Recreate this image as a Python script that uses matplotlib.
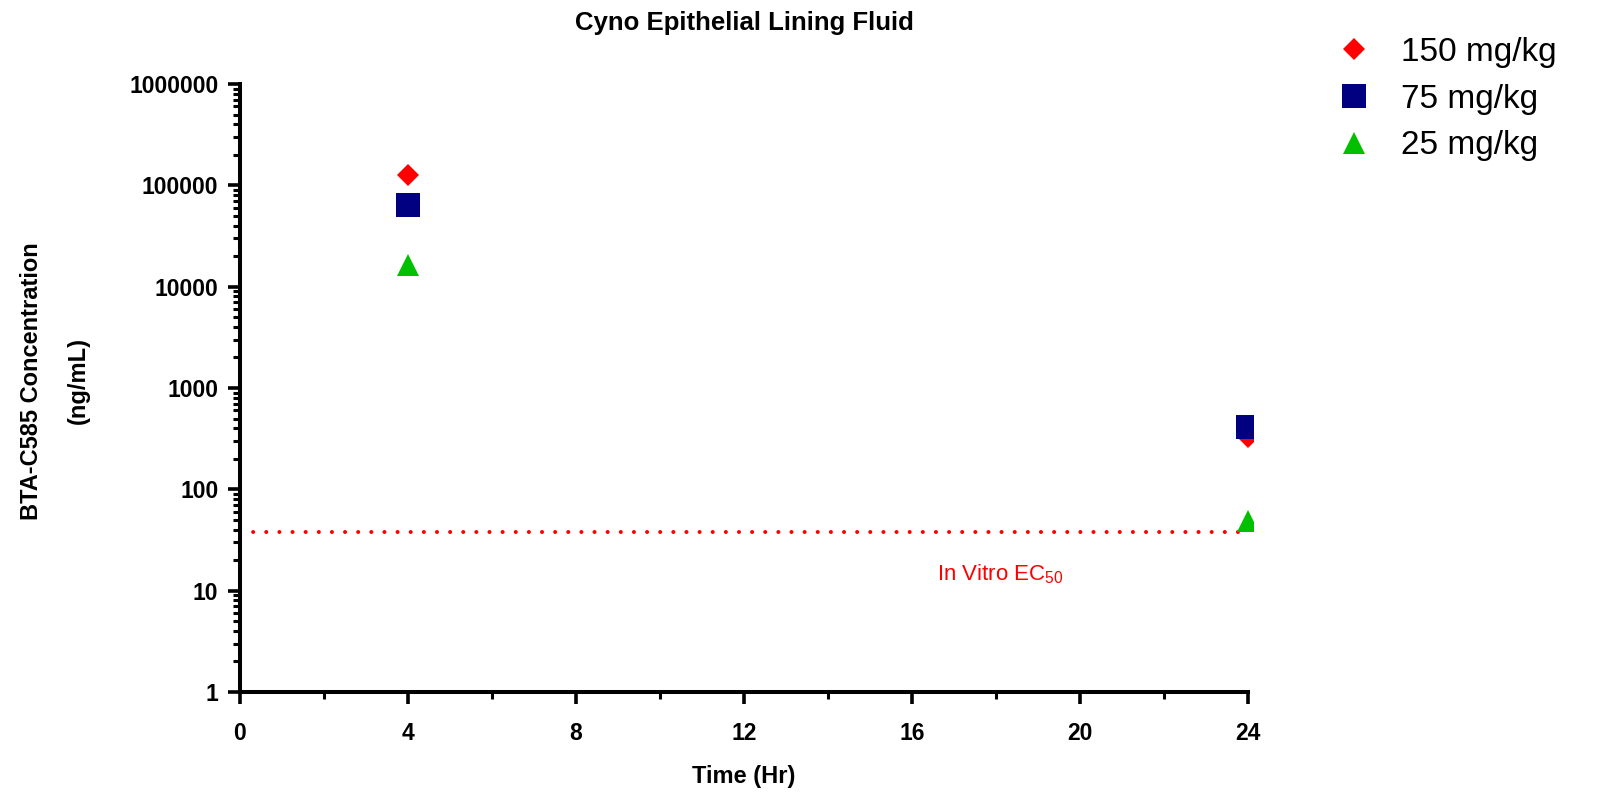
import matplotlib
matplotlib.use("Agg")
import matplotlib.pyplot as plt
from matplotlib.patches import Rectangle
from matplotlib.ticker import FixedLocator, FixedFormatter, LogLocator, NullFormatter

plt.rcParams['font.family'] = ['Liberation Sans', 'DejaVu Sans']
plt.rcParams['mathtext.fontset'] = 'custom'
plt.rcParams['mathtext.rm'] = 'Liberation Sans'
plt.rcParams['mathtext.it'] = 'Liberation Sans'

# ---- data ----
time_hr = [4, 24]
conc_150 = [126000, 330]
conc_75 = [64000, 412]
conc_25 = [16500, 48.5]
ec50_value = 37.7
ec50_span = [0, 24]

series_labels = ['150 mg/kg', '75 mg/kg', '25 mg/kg']
series_colors = ['#FF0000', '#000080', '#00C000']

x_major = [0, 4, 8, 12, 16, 20, 24]
x_minor = [2, 6, 10, 14, 18, 22]
y_major = [1, 10, 100, 1000, 10000, 100000, 1000000]
y_major_labels = ['1', '10', '100', '1000', '10000', '100000', '1000000']

title = 'Cyno Epithelial Lining Fluid'
xlabel = 'Time (Hr)'
ylabel = 'BTA-C585 Concentration\n(ng/mL)'
ec50_label = 'In Vitro EC$_{50}$'

# ---- figure ----
W, H = 1602, 795
fig = plt.figure(figsize=(W / 100, H / 100), dpi=100)
ax_left, ax_right, ax_top, ax_bottom = 240, 1248, 84, 692
ax = fig.add_axes([ax_left / W, 1 - ax_bottom / H,
                   (ax_right - ax_left) / W, (ax_bottom - ax_top) / H])

ax.set_yscale('log')
ax.set_xlim(0, 24)
ax.set_ylim(1, 1000000)

clip_rect = Rectangle((0, 0), 1.005, 1.0, transform=ax.transAxes,
                      facecolor='none', edgecolor='none')

# EC50 dotted line
ax.plot(ec50_span, [ec50_value, ec50_value], color='#FF0000', lw=2.9,
        dashes=(0.01, 3.25), dash_capstyle='round', zorder=2)

ms_D = 11.5
ms_s = 17.3
ms_t = 16.5
l1, = ax.plot(time_hr, conc_150, ls='none', marker='D', ms=ms_D, color=series_colors[0],
              mew=0, label=series_labels[0], zorder=3)
l2, = ax.plot(time_hr, conc_75, ls='none', marker='s', ms=ms_s, color=series_colors[1],
              mew=0, label=series_labels[1], zorder=4)
l3, = ax.plot(time_hr, conc_25, ls='none', marker='^', ms=ms_t, color=series_colors[2],
              mew=0, label=series_labels[2], zorder=5)
for ln in (l1, l2, l3):
    ln.set_clip_path(clip_rect)

# spines
for s in ['top', 'right']:
    ax.spines[s].set_visible(False)
for s in ['left', 'bottom']:
    ax.spines[s].set_linewidth(2.9)
    ax.spines[s].set_capstyle('projecting')

# ticks
ax.xaxis.set_major_locator(FixedLocator(x_major))
ax.xaxis.set_minor_locator(FixedLocator(x_minor))
ax.yaxis.set_major_locator(FixedLocator(y_major))
ax.yaxis.set_major_formatter(FixedFormatter(y_major_labels))
ax.yaxis.set_minor_locator(LogLocator(base=10, subs=range(2, 10), numticks=20))
ax.yaxis.set_minor_formatter(NullFormatter())

ax.tick_params(axis='both', which='major', direction='out', length=8.6, width=2.6,
               labelsize=16.5, pad=7)
ax.tick_params(axis='both', which='minor', direction='out', length=5, width=2.2)
ax.tick_params(axis='x', which='major', pad=13)
for lab in ax.get_xticklabels() + ax.get_yticklabels():
    lab.set_fontweight('bold')

# labels
fig.text(744 / W, 1 - 23 / H, title, ha='center', va='center',
         fontsize=18.5, fontweight='bold')
ax.set_xlabel(xlabel, fontsize=17, fontweight='bold', va='center')
ax.xaxis.set_label_coords(0.5, -(776 - ax_bottom) / (ax_bottom - ax_top))
ax.set_ylabel(ylabel, fontsize=17, fontweight='bold', va='center', ha='center',
              multialignment='center', linespacing=2.3)
ax.yaxis.set_label_coords(-(ax_left - 55) / (ax_right - ax_left),
                          (ax_bottom - 381) / (ax_bottom - ax_top))

ax.text((1000 - ax_left) / (ax_right - ax_left), (ax_bottom - 574) / (ax_bottom - ax_top),
        ec50_label, transform=ax.transAxes, color='#FF0000', fontsize=16,
        ha='center', va='center')

fig.legend(loc='upper left', bbox_to_anchor=(1338 / W, 1 - 37 / H),
           frameon=False, fontsize=24, handlelength=0.95, handletextpad=0.95,
           labelspacing=0.47, borderpad=0, borderaxespad=0)

fig.savefig('out.png', dpi=100)
